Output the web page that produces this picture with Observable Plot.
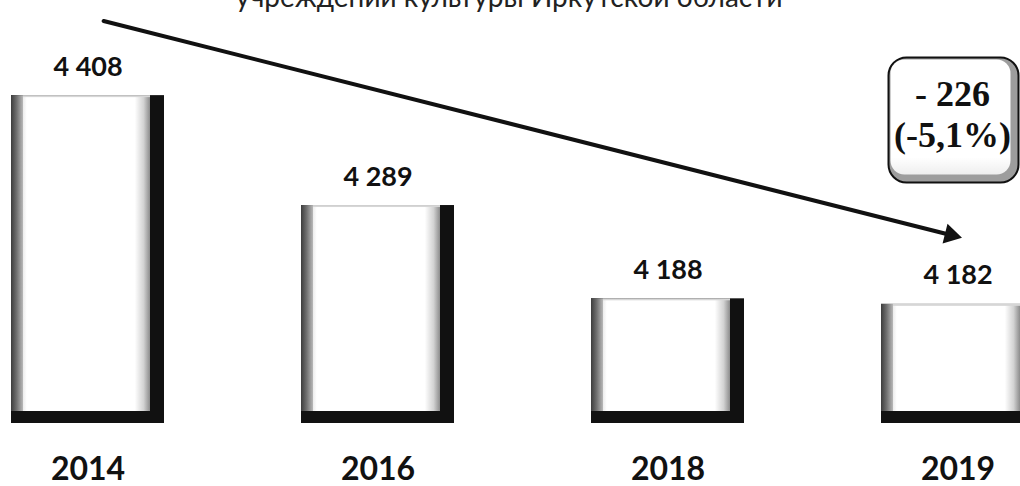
<!DOCTYPE html>
<html><head><meta charset="utf-8">
<script src="https://cdn.jsdelivr.net/npm/d3@7"></script>
<script src="https://cdn.jsdelivr.net/npm/@observablehq/plot@0.6"></script>
<style>html,body{margin:0;padding:0;background:#fff;} #chart{width:1020px;height:486px;overflow:hidden}</style>
</head><body><div id="chart"></div>
<script>
// ---- data ----
const years = ["2014", "2016", "2018", "2019"];
const values = [4408, 4289, 4188, 4182];
const arrowLevels = [4492, 4254];          // trend arrow (start, end) levels
const subtitle = "учреждений культуры Иркутской области";

const data = years.map((year, i) => ({year, value: values[i]}));
const fmt = d3.formatLocale({thousands: " ", grouping: [3], decimal: ",", currency: ["", ""]}).format(",d");
const first = data[0], last = data[data.length - 1];
const diff = last.value - first.value;
const pct = diff / first.value * 100;
const boxText = `- ${Math.abs(diff)}\n(${pct.toFixed(1).replace(".", ",")}%)`;

const xOpts = {type: "band", domain: years, range: [10, 1035], paddingInner: 0.4736, paddingOuter: 0, align: 0.5};
const yOpts = {type: "linear", domain: [4053, 4511], range: [423, 0], clamp: true};
const xs = Plot.scale({x: xOpts});
const ys = Plot.scale({y: yOpts});
const cx = v => xs.apply(v) + xs.bandwidth / 2;
const ADX = 4;
const p1 = [cx(first.year) + ADX, ys.apply(arrowLevels[0])];
const p2 = [cx(last.year) + ADX, ys.apply(arrowLevels[1])];
const theta = Math.atan2(p2[1] - p1[1], p2[0] - p1[0]);
const headR = 7.5;
const headBack = 2 * Math.sqrt(Math.PI * headR * headR / (Math.sqrt(3) * 3));

const sans = "Lato, 'Open Sans', sans-serif";
const ink = "#111";

const plot = Plot.plot({
  width: 1020, height: 486,
  marginTop: 0, marginBottom: 63, marginLeft: 0, marginRight: 0,
  x: {...xOpts, axis: null},
  y: {...yOpts, axis: null},
  style: {background: "#fff", overflow: "hidden"},
  marks: [
    Plot.text([subtitle], {frameAnchor: "top-left", lineAnchor: "middle", textAnchor: "start", dx: 235, dy: -2,
      fontSize: 28, fontFamily: sans, fill: "#222"}),
    // bevelled bars
    Plot.barY(data, {x: "year", y: "value", fill: ink}),
    Plot.barY(data, {x: "year", y: "value", fill: "url(#leftBevel)", insetRight: 14, insetBottom: 12}),
    Plot.barY(data, {x: "year", y: "value", fill: "url(#innerFace)", insetLeft: 12, insetRight: 14, insetBottom: 12, insetTop: 2}),
    // value labels
    Plot.text(data, {x: "year", y: "value", text: d => fmt(d.value), dy: -28.6, lineAnchor: "middle",
      fontSize: 27, fontWeight: "bold", fontFamily: sans, fill: ink}),
    // year labels
    Plot.text(data, {x: "year", text: "year", frameAnchor: "bottom", lineAnchor: "middle", dy: 45.8,
      fontSize: 32, fontWeight: "bold", fontFamily: sans, fill: ink}),
    // trend arrow
    Plot.arrow([{x1: first.year, y1: arrowLevels[0], x2: last.year, y2: arrowLevels[1]}],
      {x1: "x1", y1: "y1", x2: "x2", y2: "y2", dx: ADX, stroke: ink, strokeWidth: 4,
       headLength: 0, insetStart: 12, insetEnd: headBack}),
    Plot.dot([last], {x: "year", y: () => arrowLevels[1], symbol: "triangle", r: headR, fill: ink, stroke: null,
      rotate: 90 + theta * 180 / Math.PI,
      dx: ADX - headBack * Math.cos(theta), dy: -headBack * Math.sin(theta)}),
    // change box
    Plot.frame({fill: "#9d9d9d", stroke: ink, strokeWidth: 2, rx: 18, ry: 18,
      insetLeft: 888, insetRight: 2, insetTop: 57, insetBottom: 241}),
    Plot.frame({fill: "url(#boxFace)", rx: 14, ry: 14,
      insetLeft: 890, insetRight: 10, insetTop: 59, insetBottom: 249}),
    Plot.text([boxText], {x: () => last.year, frameAnchor: "top", lineAnchor: "top", dy: 76.4, dx: -5.5,
      lineHeight: 1.14, fontSize: 36, fontWeight: "bold", fontFamily: "'Liberation Serif', 'Times New Roman', serif", fill: ink})
  ]
});

const NS = "http://www.w3.org/2000/svg";
const defs = document.createElementNS(NS, "defs");
defs.innerHTML = `
  <linearGradient id="leftBevel" x1="0" x2="1" y1="0" y2="0">
    <stop offset="0" stop-color="#3c3c3c"/>
    <stop offset="0.04" stop-color="#707070"/>
    <stop offset="0.086" stop-color="#b8b8b8"/>
    <stop offset="0.09" stop-color="#d6d6d6"/>
    <stop offset="1" stop-color="#d6d6d6"/>
  </linearGradient>
  <linearGradient id="innerFace" x1="0" x2="1" y1="0" y2="0">
    <stop offset="0" stop-color="#ececec"/>
    <stop offset="0.03" stop-color="#ffffff"/>
    <stop offset="0.88" stop-color="#ffffff"/>
    <stop offset="0.95" stop-color="#d2d2d2"/>
    <stop offset="1" stop-color="#8c8c8c"/>
  </linearGradient>
  <linearGradient id="boxFace" x1="0" x2="0" y1="0" y2="1">
    <stop offset="0" stop-color="#ffffff"/>
    <stop offset="0.85" stop-color="#ffffff"/>
    <stop offset="1" stop-color="#eeeeee"/>
  </linearGradient>`;
plot.insertBefore(defs, plot.firstChild);
document.getElementById("chart").appendChild(plot);
</script>
</body></html>
